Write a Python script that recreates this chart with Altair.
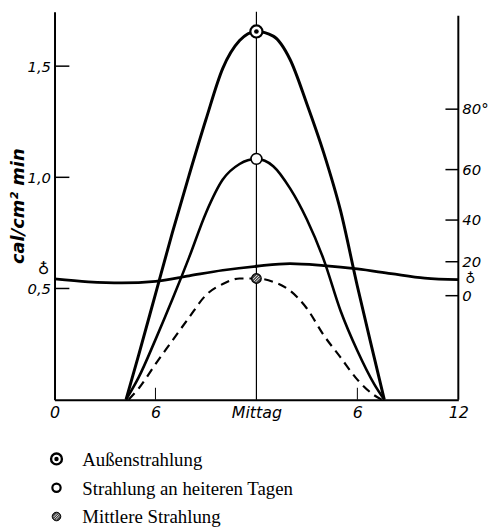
import altair as alt
import pandas as pd

# ---------------- values ----------------
# time of day in hours (0 = midnight, 12 = Mittag, 24 = midnight), radiation in cal/cm² min
hours_sun = [4.25, 5, 6, 7, 8, 9, 10, 11, 12, 13, 14, 15, 16, 17, 18, 19, 19.6]
aussen = [0.0, 0.20, 0.475, 0.75, 1.01, 1.26, 1.49, 1.615, 1.656, 1.635, 1.53, 1.33, 1.11, 0.85, 0.51, 0.19, 0.0]
heiter = [0.0, 0.10, 0.27, 0.45, 0.64, 0.84, 0.99, 1.06, 1.083, 1.05, 0.95, 0.81, 0.63, 0.40, 0.22, 0.07, 0.0]

hours_mittel = [4.4, 5, 6, 7, 8, 9, 10, 11, 12, 13, 14, 15, 16, 17, 18, 19, 19.45]
mittel = [0.0, 0.05, 0.16, 0.265, 0.37, 0.47, 0.52, 0.545, 0.545, 0.53, 0.49, 0.41, 0.29, 0.19, 0.09, 0.02, 0.0]

# curve marked with the symbol ♁ (radiation of the ground)
hours_earth = [0, 2, 4, 6, 8, 10, 12, 14, 16, 18, 20, 22, 24]
earth = [0.543, 0.530, 0.525, 0.532, 0.557, 0.582, 0.600, 0.612, 0.603, 0.588, 0.567, 0.547, 0.540]

# axes
x_tick_hours = [0, 6, 12, 18, 24]
x_tick_labels = ["0", "6", "Mittag", "6", "12"]
y_tick_values = [0.5, 1.0, 1.5]
right_temps = [0, 20, 40, 60, 80]            # black-body temperature scale, °C
right_labels = ["0", "20", "40", "60", "80°"]
SIGMA = 8.4e-11                               # cal/cm² min K⁴ as drawn in the figure

legend_names = ["Außenstrahlung", "Strahlung an heiteren Tagen", "Mittlere Strahlung"]

# ---------------- tables ----------------
df_aussen = pd.DataFrame({"hour": hours_sun, "value": aussen})
df_heiter = pd.DataFrame({"hour": hours_sun, "value": heiter})
df_mittel = pd.DataFrame({"hour": hours_mittel, "value": mittel})
df_earth = pd.DataFrame({"hour": hours_earth, "value": earth})
noon = pd.DataFrame({
    "hour": [12, 12, 12],
    "value": [aussen[hours_sun.index(12)], heiter[hours_sun.index(12)], mittel[hours_mittel.index(12)]],
    "name": legend_names,
})
df_yticks = pd.DataFrame({"value": y_tick_values})
df_right = pd.DataFrame({
    "value": [SIGMA * (t + 273.15) ** 4 for t in right_temps],
    "label": right_labels,
})
df_xticks = pd.DataFrame({"hour": x_tick_hours, "label": x_tick_labels})

W, H = 408, 392
FONT = "DejaVu Sans"
HATCH = "M-0.51,0.51L0.51,-0.51M-0.16,0.72L0.72,-0.16M-0.72,0.16L0.16,-0.72"

x_enc = alt.X(
    "hour:Q",
    scale=alt.Scale(domain=[0, 24], nice=False, zero=False),
    axis=alt.Axis(
        values=x_tick_hours,
        labelExpr="%s[indexof(%s, datum.value)]" % (
            "[" + ",".join("'%s'" % s for s in x_tick_labels) + "]",
            "[" + ",".join(str(v) for v in x_tick_hours) + "]"),
        ticks=False, grid=False, title=None,
        domainColor="black", domainWidth=2,
        labelFont=FONT, labelFontStyle="italic", labelFontSize=16,
        labelColor="black", labelPadding=5, labelFlush=False,
    ),
)
y_enc = alt.Y(
    "value:Q",
    scale=alt.Scale(domain=[0, 1.745], nice=False),
    axis=alt.Axis(
        values=y_tick_values,
        labelExpr="replace(format(datum.value, '.1f'), '.', ',')",
        ticks=False, grid=False,
        title="cal/cm² min",
        titleFont=FONT, titleFontStyle="italic", titleFontSize=18, titleFontWeight="bold",
        titleColor="black", titleX=-31, titleBaseline="alphabetic",
        domainColor="black", domainWidth=2,
        labelFont=FONT, labelFontStyle="italic", labelFontSize=15,
        labelColor="black", labelPadding=4,
    ),
)

line_aussen = alt.Chart(df_aussen).mark_line(
    color="black", strokeWidth=3, interpolate="monotone").encode(x=x_enc, y=y_enc)
line_heiter = alt.Chart(df_heiter).mark_line(
    color="black", strokeWidth=2.6, interpolate="monotone").encode(x=x_enc, y=y_enc)
line_mittel = alt.Chart(df_mittel).mark_line(
    color="black", strokeWidth=2.2, strokeDash=[9, 6], interpolate="monotone").encode(x=x_enc, y=y_enc)
line_earth = alt.Chart(df_earth).mark_line(
    color="black", strokeWidth=2.8, interpolate="monotone").encode(x=x_enc, y=y_enc)

# Mittag vertical line, short hour ticks, right axis line
mittag_rule = alt.Chart(df_xticks).transform_filter("datum.label == 'Mittag'").mark_rule(
    color="black", strokeWidth=1.2).encode(x=x_enc, y=alt.value(0), y2=alt.value(H))
hour_ticks = alt.Chart(df_xticks).transform_filter("datum.label == '6'").mark_rule(
    color="black", strokeWidth=1).encode(x=x_enc, y=alt.value(H - 12), y2=alt.value(H))
right_axis = alt.Chart(df_xticks).transform_filter("datum.hour == 24").mark_rule(
    color="black", strokeWidth=2).encode(x=x_enc, y=alt.value(4), y2=alt.value(H))

left_ticks = alt.Chart(df_yticks).mark_rule(color="black", strokeWidth=1.5).encode(
    y=y_enc, x=alt.value(0), x2=alt.value(15))
right_ticks = alt.Chart(df_right).mark_rule(color="black", strokeWidth=1.5).encode(
    y=y_enc, x=alt.value(W - 13), x2=alt.value(W))
right_text = alt.Chart(df_right).mark_text(
    align="left", baseline="middle", font=FONT, fontStyle="italic", fontSize=15, color="black"
).encode(y=y_enc, x=alt.value(W + 4), text="label:N")

# ♁ symbols at both ends of the ground curve
earth_left = alt.Chart(df_earth.iloc[[0]]).mark_text(
    text="♁", font=FONT, fontSize=16, color="black", baseline="middle", align="center",
    dx=-11, dy=-10
).encode(y=y_enc, x=x_enc)
earth_right = alt.Chart(df_earth.iloc[[-1]]).mark_text(
    text="♁", font=FONT, fontSize=14, color="black", baseline="middle", align="center",
    dx=12, dy=-1
).encode(y=y_enc, x=x_enc)

# noon markers
m_outer = alt.Chart(noon).transform_filter(alt.datum.name == legend_names[0]).mark_point(
    shape="circle", filled=True, fill="white", stroke="black", strokeWidth=2.2, size=150, opacity=1
).encode(x=x_enc, y=y_enc)
m_outer_dot = alt.Chart(noon).transform_filter(alt.datum.name == legend_names[0]).mark_point(
    shape="circle", filled=True, color="black", size=22, opacity=1
).encode(x=x_enc, y=y_enc)
m_open = alt.Chart(noon).transform_filter(alt.datum.name == legend_names[1]).mark_point(
    shape="circle", filled=True, fill="white", stroke="black", strokeWidth=1.6, size=120, opacity=1
).encode(x=x_enc, y=y_enc)
m_hatch = alt.Chart(noon).transform_filter(alt.datum.name == legend_names[2]).mark_point(
    shape="circle", filled=True, fill="#444444", stroke="black", strokeWidth=1.2, size=95, opacity=1
).encode(x=x_enc, y=y_enc)
m_hatch_lines = alt.Chart(noon).transform_filter(alt.datum.name == legend_names[2]).mark_point(
    shape=HATCH, filled=False, stroke="white", strokeWidth=0.9, size=95, opacity=1
).encode(x=x_enc, y=y_enc)

main = alt.layer(
    line_earth, line_mittel, line_heiter, line_aussen,
    mittag_rule, hour_ticks, right_axis, left_ticks, right_ticks, right_text,
    earth_left, earth_right, m_outer, m_outer_dot, m_open, m_hatch, m_hatch_lines,
).properties(width=W, height=H)

# ---------------- legend ----------------
df_leg = pd.DataFrame({"name": legend_names})
ly = alt.Y("name:N", sort=legend_names, axis=None,
           scale=alt.Scale(type="point", padding=0.1))
leg_outer = alt.Chart(df_leg).transform_filter(alt.datum.name == legend_names[0]).mark_point(
    shape="circle", filled=True, fill="white", stroke="black", strokeWidth=2.4, size=120, opacity=1
).encode(y=ly, x=alt.value(2))
leg_outer_dot = alt.Chart(df_leg).transform_filter(alt.datum.name == legend_names[0]).mark_point(
    shape="circle", filled=True, color="black", size=20, opacity=1
).encode(y=ly, x=alt.value(2))
leg_open = alt.Chart(df_leg).transform_filter(alt.datum.name == legend_names[1]).mark_point(
    shape="circle", filled=True, fill="white", stroke="black", strokeWidth=2.2, size=70, opacity=1
).encode(y=ly, x=alt.value(2))
leg_hatch = alt.Chart(df_leg).transform_filter(alt.datum.name == legend_names[2]).mark_point(
    shape="circle", filled=True, fill="#444444", stroke="black", strokeWidth=1, size=75, opacity=1
).encode(y=ly, x=alt.value(2))
leg_hatch_lines = alt.Chart(df_leg).transform_filter(alt.datum.name == legend_names[2]).mark_point(
    shape=HATCH, filled=False, stroke="white", strokeWidth=0.8, size=75, opacity=1
).encode(y=ly, x=alt.value(2))
leg_text = alt.Chart(df_leg).mark_text(
    align="left", baseline="middle", font="Liberation Serif", fontSize=19, color="black", dy=1
).encode(y=ly, x=alt.value(28), text="name:N")

legend = alt.layer(leg_outer, leg_outer_dot, leg_open, leg_hatch, leg_hatch_lines, leg_text
                   ).properties(width=W, height=64)

chart = alt.vconcat(main, legend, spacing=28).properties(
    padding={"left": 2, "top": 0, "right": 0, "bottom": 0}
).configure(background="white", view=alt.ViewConfig(stroke=None))

chart.save("out.html", embed_options={"renderer": "svg", "actions": False})
